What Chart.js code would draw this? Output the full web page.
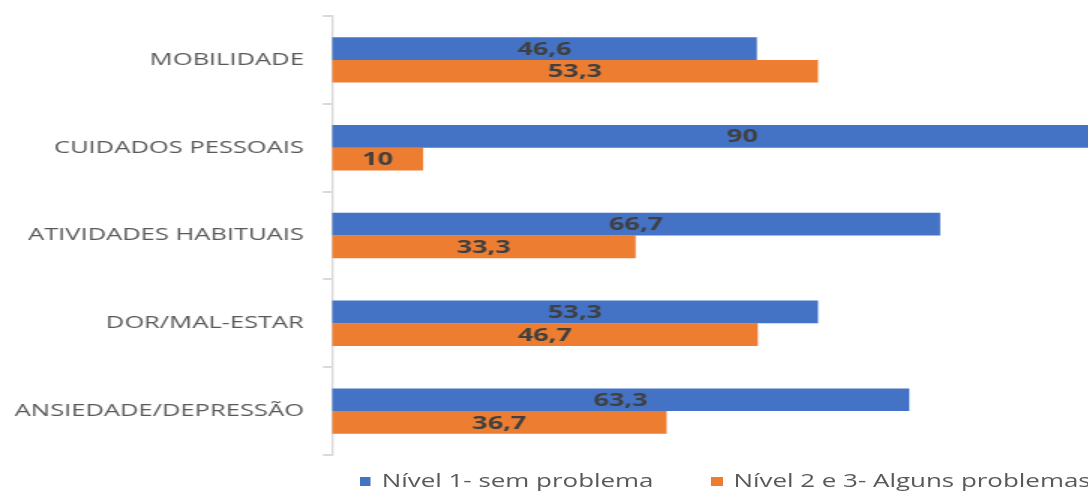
<!DOCTYPE html>
<html lang="pt">
<head>
<meta charset="utf-8">
<title>EQ-5D – distribuição por dimensão</title>
<script src="https://cdn.jsdelivr.net/npm/chart.js@4.4.1/dist/chart.umd.min.js"></script>
<style>
  html, body { margin: 0; padding: 0; background: #ffffff; }
  body { width: 1088px; height: 491px; overflow: hidden; position: relative; }
  /* the whole figure is drawn wide, as in the printed report */
  #wrap {
    position: absolute; left: 0; top: 0;
    width: 1000px; height: 500px;
    transform: scaleX(1.5); transform-origin: 0 0;
  }
  #c { position: absolute; left: 0; top: 0; }
  #legend {
    position: absolute; top: 469px; left: 0; width: 967px;
    display: flex; justify-content: center; gap: 38.7px;
    font: 17.3px "Open Sans", sans-serif; color: #595959;
    line-height: 24px; white-space: nowrap;
  }
  .item { display: flex; align-items: center; }
  .swatch { width: 7.3px; height: 9px; margin-right: 7.3px; flex: none; }
</style>
</head>
<body>
<div id="wrap">
  <canvas id="c" width="1000" height="460"></canvas>
  <div id="legend"></div>
</div>
<script>
// Dimensions of quality of life, top to bottom
const categories = [
  'MOBILIDADE',
  'CUIDADOS PESSOAIS',
  'ATIVIDADES HABITUAIS',
  'DOR/MAL-ESTAR',
  'ANSIEDADE/DEPRESSÃO'
];
const seriesNames = ['Nível 1- sem problema', 'Nível 2 e 3- Alguns problemas'];
const nivel1 = [46.6, 90, 66.7, 53.3, 63.3];
const nivel2e3 = [53.3, 10, 33.3, 46.7, 36.7];
const seriesColors = ['#4472C4', '#ED7D31'];

// Values written inside each bar, centred, with a decimal comma
const fmt = v => String(v).replace('.', ',');
const valueLabels = {
  id: 'valueLabels',
  afterDatasetsDraw(chart) {
    const ctx = chart.ctx;
    ctx.save();
    ctx.font = 'bold 18px "Open Sans", sans-serif';
    ctx.fillStyle = '#404040';
    ctx.textAlign = 'center';
    ctx.textBaseline = 'middle';
    chart.data.datasets.forEach((ds, i) => {
      chart.getDatasetMeta(i).data.forEach((bar, j) => {
        ctx.fillText(fmt(ds.data[j]), (bar.x + bar.base) / 2, bar.y + 1);
      });
    });
    ctx.restore();
  }
};

const chart = new Chart(document.getElementById('c'), {
  type: 'bar',
  data: {
    labels: categories,
    datasets: [
      { label: seriesNames[0], data: nivel1, backgroundColor: seriesColors[0] },
      { label: seriesNames[1], data: nivel2e3, backgroundColor: seriesColors[1] }
    ]
  },
  options: {
    indexAxis: 'y',
    responsive: false,
    devicePixelRatio: 1,
    animation: false,
    layout: { padding: { top: 16, bottom: 5, left: 0, right: 170.7 } },
    datasets: { bar: { categoryPercentage: 0.517, barPercentage: 1.0, borderWidth: 0 } },
    plugins: {
      legend: { display: false },
      tooltip: { enabled: false }
    },
    scales: {
      x: { display: false, min: 0, max: 100 },
      y: {
        afterFit(scale) {
          scale.width = 221.3;
          scale.paddingTop = 0;
          scale.paddingBottom = 0;
        },
        border: { display: true, color: '#d9d9d9', width: 1.4 },
        grid: {
          display: true, drawOnChartArea: false, drawTicks: true,
          tickLength: 6, color: '#d9d9d9', lineWidth: 2, offset: true
        },
        ticks: {
          padding: 12.7,
          color: '#595959',
          font: { family: '"Open Sans", sans-serif', size: 17 }
        }
      }
    }
  },
  plugins: [valueLabels]
});

// Legend built from the chart's own datasets
const legend = document.getElementById('legend');
chart.data.datasets.forEach(ds => {
  const item = document.createElement('div');
  item.className = 'item';
  const sw = document.createElement('span');
  sw.className = 'swatch';
  sw.style.background = ds.backgroundColor;
  const tx = document.createElement('span');
  tx.textContent = ds.label;
  item.appendChild(sw);
  item.appendChild(tx);
  legend.appendChild(item);
});
</script>
</body>
</html>
